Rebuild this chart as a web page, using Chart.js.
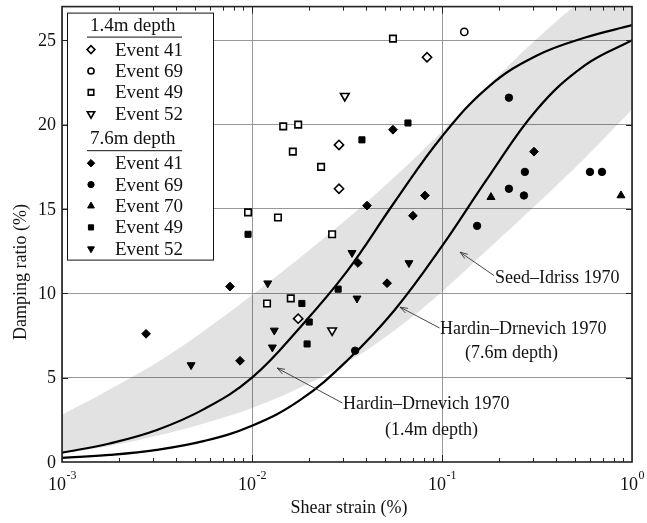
<!DOCTYPE html>
<html>
<head>
<meta charset="utf-8">
<title>Damping ratio vs shear strain</title>
<script src="https://cdn.jsdelivr.net/npm/chart.js@4/dist/chart.umd.min.js"></script>
<style>
  html, body { margin: 0; padding: 0; background: #fff; }
  #wrap { width: 647px; height: 523px; }
</style>
</head>
<body>
<div id="wrap"><canvas id="c" width="647" height="523"></canvas></div>
<script>
// ---- Reference curves (strain in %, damping ratio in %), quarter-decade samples ----
const curveStrain = [0.001, 0.00178, 0.00316, 0.00562, 0.01, 0.0178, 0.0316, 0.0562, 0.1, 0.178, 0.316, 0.562, 1.0];
const seedIdrissUpper = [2.8, 4.3, 5.9, 7.8, 9.9, 12.1, 14.4, 16.9, 19.6, 22.4, 25.1, 27.5, 29.6];
const seedIdrissLower = [0.5, 0.95, 1.55, 2.3, 3.2, 4.4, 5.9, 7.8, 10.1, 12.7, 15.3, 18.0, 20.9];
const hardinShallow   = [0.55, 1.1, 1.9, 3.15, 5.0, 7.95, 11.3, 15.4, 19.3, 22.3, 24.1, 25.15, 25.9];
const hardinDeep      = [0.25, 0.42, 0.72, 1.25, 2.15, 3.65, 6.0, 9.0, 12.8, 17.0, 20.9, 23.5, 25.0];

// ---- Measured values, 1.4 m depth ----
const shallowEvents = ['Event 41', 'Event 69', 'Event 49', 'Event 52'];
const sh41Strain = [0.0834, 0.0287, 0.0287, 0.0175];
const sh41Damping = [24.0, 18.8, 16.2, 8.5];
const sh69Strain = [0.131];
const sh69Damping = [25.5];
const sh49Strain = [0.0552, 0.0146, 0.0175, 0.0164, 0.0231, 0.00953, 0.0137, 0.0264, 0.0120, 0.0160];
const sh49Damping = [25.1, 19.9, 20.0, 18.4, 17.5, 14.8, 14.5, 13.5, 9.4, 9.7];
const sh52Strain = [0.0308, 0.0264];
const sh52Damping = [21.7, 7.8];

// ---- Measured values, 7.6 m depth ----
const deepEvents = ['Event 41', 'Event 69', 'Event 70', 'Event 49', 'Event 52'];
const dp41Strain = [0.0552, 0.305, 0.0813, 0.0403, 0.0703, 0.0361, 0.0514, 0.00766, 0.00277, 0.00865];
const dp41Damping = [19.7, 18.4, 15.8, 15.2, 14.6, 11.8, 10.6, 10.4, 7.6, 6.0];
const dp69Strain = [0.225, 0.273, 0.601, 0.695, 0.225, 0.270, 0.153, 0.0349];
const dp69Damping = [21.6, 17.2, 17.2, 17.2, 16.2, 15.8, 14.0, 6.6];
const dp70Strain = [0.181, 0.875];
const dp70Damping = [15.7, 15.8];
const dp49Strain = [0.0662, 0.0379, 0.00953, 0.0284, 0.0183, 0.0200, 0.0195];
const dp49Damping = [20.1, 19.1, 13.5, 10.25, 9.4, 8.3, 7.0];
const dp52Strain = [0.0121, 0.0131, 0.0128, 0.00478, 0.0336, 0.0357, 0.067];
const dp52Damping = [10.6, 7.8, 6.8, 5.75, 12.4, 9.7, 11.8];

// ---- Axis ticks ----
const strainDecades = [0.001, 0.01, 0.1, 1];
const strainDecadeExponents = ['-3', '-2', '-1', '0'];
const dampingTicks = [0, 5, 10, 15, 20, 25];
const depthHeaders = ['1.4m depth', '7.6m depth'];

const SERIF = '"Liberation Serif", "Times New Roman", Times, serif';
const pts = (xs, ys) => xs.map((v, i) => ({ x: v, y: ys[i] }));

const openMark = { backgroundColor: '#fff', borderColor: '#000', borderWidth: 1.6 };
const fullMark = { backgroundColor: '#000', borderColor: '#000', borderWidth: 1 };

function markers(label, group, xs, ys, style, shape, radius, rotation) {
  return {
    label, group, data: pts(xs, ys), showLine: false,
    pointStyle: shape, pointRadius: radius, pointHoverRadius: radius,
    pointRotation: rotation || 0,
    pointBackgroundColor: style.backgroundColor,
    pointBorderColor: style.borderColor,
    pointBorderWidth: style.borderWidth,
    backgroundColor: style.backgroundColor,
    borderColor: style.borderColor
  };
}

const markerSets = [
  markers(shallowEvents[0], 0, sh41Strain, sh41Damping, openMark, 'rectRot', 4.6),
  markers(shallowEvents[1], 0, sh69Strain, sh69Damping, openMark, 'circle', 3.6),
  markers(shallowEvents[2], 0, sh49Strain, sh49Damping, openMark, 'rect', 4.6),
  markers(shallowEvents[3], 0, sh52Strain, sh52Damping, openMark, 'triangle', 5, 180),
  markers(deepEvents[0], 1, dp41Strain, dp41Damping, fullMark, 'rectRot', 4.4),
  markers(deepEvents[1], 1, dp69Strain, dp69Damping, fullMark, 'circle', 3.7),
  markers(deepEvents[2], 1, dp70Strain, dp70Damping, fullMark, 'triangle', 4.6),
  markers(deepEvents[3], 1, dp49Strain, dp49Damping, fullMark, 'rect', 4.3),
  markers(deepEvents[4], 1, dp52Strain, dp52Damping, fullMark, 'triangle', 4.6, 180)
];

const curveLine = (label, ys) => ({
  label, data: pts(curveStrain, ys), showLine: true,
  borderColor: '#000', borderWidth: 2.2, pointRadius: 0, pointHoverRadius: 0,
  tension: 0.4, fill: false
});

const datasets = markerSets.concat([
  curveLine('Hardin–Drnevich 1970 (1.4m depth)', hardinShallow),
  curveLine('Hardin–Drnevich 1970 (7.6m depth)', hardinDeep),
  {
    label: 'Seed–Idriss 1970', data: pts(curveStrain, seedIdrissUpper), showLine: true,
    borderWidth: 0, borderColor: 'rgba(0,0,0,0)', pointRadius: 0, pointHoverRadius: 0,
    tension: 0.4, fill: '+1', backgroundColor: 'rgba(0,0,0,0.115)'
  },
  {
    label: 'Seed–Idriss 1970 lower', data: pts(curveStrain, seedIdrissLower), showLine: true,
    borderWidth: 0, borderColor: 'rgba(0,0,0,0)', pointRadius: 0, pointHoverRadius: 0,
    tension: 0.4, fill: false
  }
]);

// Curve labels with leader arrows, anchored in data units (strain, damping)
const curveLabels = [
  { lines: ['Seed–Idriss 1970'], at: [0.190, 10.9], from: [0.188, 11.05], tip: [0.1245, 12.44] },
  { lines: ['Hardin–Drnevich 1970', '(7.6m depth)'], at: [0.0976, 7.88], second: [0.132, 6.46], from: [0.0970, 7.95], tip: [0.0601, 9.18] },
  { lines: ['Hardin–Drnevich 1970', '(1.4m depth)'], at: [0.0301, 3.44], second: [0.0501, 1.9], from: [0.0299, 3.5], tip: [0.01355, 5.57] }
];

function drawArrow(ctx, x1, y1, x2, y2) {
  ctx.beginPath();
  ctx.moveTo(x1, y1); ctx.lineTo(x2, y2);
  const ang = Math.atan2(y1 - y2, x1 - x2);
  const L = 8, s = 0.33;
  ctx.moveTo(x2 + L * Math.cos(ang - s), y2 + L * Math.sin(ang - s));
  ctx.lineTo(x2, y2);
  ctx.lineTo(x2 + L * Math.cos(ang + s), y2 + L * Math.sin(ang + s));
  ctx.stroke();
}

const decorations = {
  id: 'decorations',
  afterDatasetsDraw(chart) {
    const { ctx, chartArea: a, scales: { x, y } } = chart;
    ctx.save();
    // inward tick marks on all four sides
    ctx.strokeStyle = '#222';
    ctx.lineWidth = 1;
    x.ticks.forEach(t => {
      const px = Math.round(x.getPixelForValue(t.value)) + 0.5;
      if (px <= a.left + 1 || px >= a.right - 1) return;
      const len = t.major ? 7 : 4;
      ctx.beginPath();
      ctx.moveTo(px, a.bottom); ctx.lineTo(px, a.bottom - len);
      ctx.moveTo(px, a.top); ctx.lineTo(px, a.top + len);
      ctx.stroke();
    });
    y.ticks.forEach(t => {
      const py = Math.round(y.getPixelForValue(t.value)) + 0.5;
      if (py >= a.bottom - 1 || py <= a.top + 1) return;
      ctx.beginPath();
      ctx.moveTo(a.left, py); ctx.lineTo(a.left + 6, py);
      ctx.moveTo(a.right, py); ctx.lineTo(a.right - 6, py);
      ctx.stroke();
    });

    // curve labels
    ctx.fillStyle = '#111';
    ctx.strokeStyle = '#333';
    ctx.lineWidth = 0.9;
    ctx.font = '18px ' + SERIF;
    ctx.textBaseline = 'middle';
    ctx.textAlign = 'left';
    curveLabels.forEach(l => {
      ctx.fillText(l.lines[0], x.getPixelForValue(l.at[0]), y.getPixelForValue(l.at[1]));
      if (l.second) ctx.fillText(l.lines[1], x.getPixelForValue(l.second[0]), y.getPixelForValue(l.second[1]));
      drawArrow(ctx, x.getPixelForValue(l.from[0]), y.getPixelForValue(l.from[1]),
                x.getPixelForValue(l.tip[0]), y.getPixelForValue(l.tip[1]));
    });

    // legend box
    const bx = a.left + 5, by = a.top + 6, bw = 146, bh = 247;
    ctx.fillStyle = '#fff';
    ctx.fillRect(bx, by, bw, bh);
    ctx.strokeStyle = '#111';
    ctx.lineWidth = 1;
    ctx.strokeRect(bx + 0.5, by + 0.5, bw, bh);
    ctx.font = '19px ' + SERIF;
    let rowY = by + 13;
    const step = 21.4;
    [0, 1].forEach(g => {
      ctx.fillStyle = '#111';
      ctx.fillText(depthHeaders[g], bx + 23, rowY);
      ctx.beginPath();
      ctx.moveTo(bx + 20, rowY + 11.5); ctx.lineTo(bx + 115, rowY + 11.5);
      ctx.stroke();
      rowY += 24;
      chart.data.datasets.forEach(ds => {
        if (ds.group !== g) return;
        ctx.save();
        ctx.fillStyle = ds.pointBackgroundColor;
        ctx.strokeStyle = ds.pointBorderColor;
        ctx.lineWidth = ds.pointBorderWidth;
        Chart.helpers.drawPoint(ctx, {
          pointStyle: ds.pointStyle, rotation: ds.pointRotation,
          radius: ds.pointRadius * 0.85, borderWidth: ds.pointBorderWidth
        }, bx + 24, rowY);
        ctx.restore();
        ctx.fillStyle = '#111';
        ctx.fillText(ds.label, bx + 48, rowY + 1);
        rowY += step;
      });
      rowY += 4;
    });

    // plot frame
    ctx.strokeStyle = '#222';
    ctx.lineWidth = 1.6;
    ctx.strokeRect(a.left, a.top, a.right - a.left, a.bottom - a.top);
    ctx.restore();
  },
  afterDraw(chart) {
    const { ctx, chartArea: a, scales: { x, y } } = chart;
    ctx.save();
    ctx.fillStyle = '#111';
    // damping tick labels
    ctx.font = '18px ' + SERIF;
    ctx.textAlign = 'right';
    ctx.textBaseline = 'middle';
    dampingTicks.forEach(v => ctx.fillText(String(v), a.left - 6, y.getPixelForValue(v) + 1));
    // strain decade labels, 10 with a raised exponent
    ctx.textAlign = 'left';
    ctx.textBaseline = 'alphabetic';
    strainDecades.forEach((v, i) => {
      ctx.font = '18px ' + SERIF;
      const wBase = ctx.measureText('10').width;
      ctx.font = '12px ' + SERIF;
      const wExp = ctx.measureText(strainDecadeExponents[i]).width;
      const left = x.getPixelForValue(v) - (wBase + wExp) / 2;
      ctx.font = '18px ' + SERIF;
      ctx.fillText('10', left, a.bottom + 28);
      ctx.font = '12px ' + SERIF;
      ctx.fillText(strainDecadeExponents[i], left + wBase + 0.5, a.bottom + 17);
    });
    // axis titles
    ctx.font = '18px ' + SERIF;
    ctx.textAlign = 'center';
    ctx.textBaseline = 'middle';
    ctx.fillText('Shear strain (%)', (a.left + a.right) / 2 + 2, a.bottom + 46);
    ctx.translate(21, 272);
    ctx.rotate(-Math.PI / 2);
    ctx.fillText('Damping ratio (%)', 0, 0);
    ctx.restore();
  }
};

new Chart(document.getElementById('c'), {
  type: 'line',
  data: { datasets },
  plugins: [decorations],
  options: {
    responsive: false,
    devicePixelRatio: 1,
    animation: false,
    events: [],
    layout: { padding: { left: 62, top: 6, right: 15, bottom: 61 } },
    plugins: { legend: { display: false }, tooltip: { enabled: false } },
    scales: {
      x: {
        type: 'logarithmic', min: 0.001, max: 1,
        afterBuildTicks(scale) {
          const ticks = [];
          strainDecades.forEach((d, i) => {
            ticks.push({ value: d, major: true });
            if (i < strainDecades.length - 1) {
              for (let k = 2; k <= 9; k++) ticks.push({ value: d * k, major: false });
            }
          });
          scale.ticks = ticks;
        },
        afterFit(scale) { scale.height = 0; },
        ticks: { display: false, autoSkip: false },
        border: { display: false },
        grid: {
          drawTicks: false, lineWidth: 0.9,
          color: c => (c.tick && c.tick.major) ? '#8c8c8c' : 'rgba(0,0,0,0)'
        }
      },
      y: {
        type: 'linear', min: 0, max: 27,
        afterBuildTicks(scale) { scale.ticks = dampingTicks.map(v => ({ value: v })); },
        afterFit(scale) { scale.width = 0; },
        ticks: { display: false },
        border: { display: false },
        grid: {
          drawTicks: false, lineWidth: 0.9,
          color: c => (c.tick && c.tick.value > 0) ? '#8c8c8c' : 'rgba(0,0,0,0)'
        }
      }
    }
  }
});
</script>
</body>
</html>
